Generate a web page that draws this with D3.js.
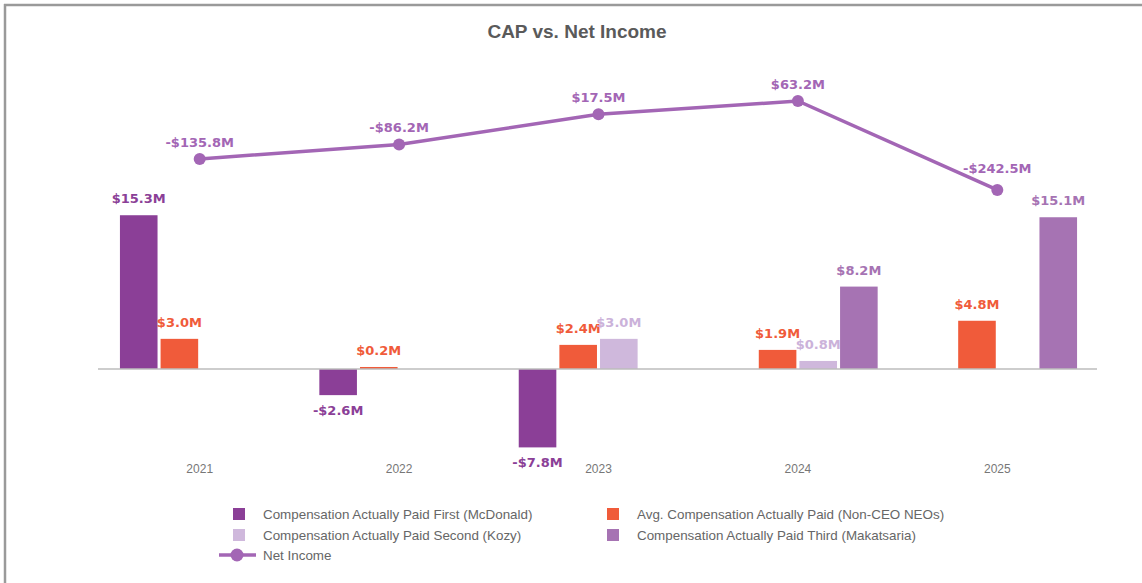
<!DOCTYPE html>
<html>
<head>
<meta charset="utf-8">
<script src="https://cdn.jsdelivr.net/npm/d3@7"></script>
<style>
  html, body { margin: 0; padding: 0; background: #fff; }
  svg { display: block; }
</style>
</head>
<body>
<svg id="chart" width="1142" height="583"></svg>
<script>
// chart data (values in $M)
const years = ["2021", "2022", "2023", "2024", "2025"];
const capMcDonald = [15.3, -2.6, -7.8, null, null];
const capNonCeo = [3.0, 0.2, 2.4, 1.9, 4.8];
const capKozy = [null, null, 3.0, 0.8, null];
const capMakatsaria = [null, null, null, 8.2, 15.1];
const netIncome = [-135.8, -86.2, 17.5, 63.2, -242.5];

const seriesNames = [
  "Compensation Actually Paid First (McDonald)",
  "Avg. Compensation Actually Paid (Non-CEO NEOs)",
  "Compensation Actually Paid Second (Kozy)",
  "Compensation Actually Paid Third (Makatsaria)"
];
const lineName = "Net Income";

const barColors = ["#8b3f97", "#f05b3a", "#cfb8dc", "#a673b3"];
const labelColors = ["#8b3f97", "#f05b3a", "#cbb2da", "#a673b3"];
const lineColor = "#a366b5";

const seriesValues = [capMcDonald, capNonCeo, capKozy, capMakatsaria];

const fmt = (v) => (v < 0 ? "-" : "") + "$" + Math.abs(v).toFixed(1) + "M";

const svg = d3.select("#chart");

// frame (top + left edge)
svg.append("line").attr("x1", 4).attr("x2", 1142).attr("y1", 5).attr("y2", 5)
  .style("stroke", "#9a9a9a").style("stroke-width", 2.5);
svg.append("line").attr("x1", 5).attr("x2", 5).attr("y1", 4).attr("y2", 583)
  .style("stroke", "#9a9a9a").style("stroke-width", 2.5);

// title
svg.append("text")
  .attr("x", 577)
  .attr("y", 38)
  .attr("text-anchor", "middle")
  .style("font-family", "'Liberation Sans', Arial, sans-serif")
  .style("font-weight", "bold")
  .style("font-size", "19px")
  .style("fill", "#5a5a5a")
  .text("CAP vs. Net Income");

// scales
const x0 = d3.scaleBand().domain(years).range([100, 1097]).padding(0);
const x1 = d3.scaleBand()
  .domain(d3.range(seriesNames.length))
  .range([x0.bandwidth() * 0.1, x0.bandwidth() * 0.9])
  .paddingInner(0.075);

const yBar = d3.scaleLinear().domain([-10, 20]).range([469.5, 168]);
const yLine = d3.scaleLinear().domain([-400, 100]).range([235.8, 90.3]);

// bars
const barData = [];
seriesValues.forEach((vals, si) => {
  vals.forEach((v, i) => {
    if (v !== null) barData.push({ year: years[i], s: si, v: v });
  });
});

const groups = svg.append("g").attr("class", "bars");

groups.selectAll(".bar")
  .data(barData)
  .enter()
  .append("rect")
  .attr("class", "bar")
  .attr("x", (d) => x0(d.year) + x1(d.s))
  .attr("width", x1.bandwidth())
  .attr("y", (d) => yBar(Math.max(0, d.v)))
  .attr("height", (d) => Math.abs(yBar(d.v) - yBar(0)))
  .style("fill", (d) => barColors[d.s]);

// bar value labels
groups.selectAll(".bar-label")
  .data(barData)
  .enter()
  .append("text")
  .attr("class", "bar-label")
  .attr("x", (d) => x0(d.year) + x1(d.s) + x1.bandwidth() / 2)
  .attr("y", (d) => (d.v >= 0 ? yBar(d.v) - 12 : yBar(d.v) + 20))
  .attr("text-anchor", "middle")
  .style("font-family", "'DejaVu Sans', sans-serif")
  .style("font-weight", "bold")
  .style("font-size", "13px")
  .style("fill", (d) => labelColors[d.s])
  .text((d) => fmt(d.v));

// zero axis line
svg.append("line")
  .attr("x1", 98)
  .attr("x2", x0.range()[1])
  .attr("y1", yBar(0))
  .attr("y2", yBar(0))
  .style("stroke", "#bdbdbd")
  .style("stroke-width", 1.5);

// year labels
const xAxis = svg.append("g")
  .attr("class", "x-axis")
  .attr("transform", "translate(0, 464)")
  .call(d3.axisBottom(x0).tickSize(0).tickPadding(0));
xAxis.select(".domain").remove();
xAxis.selectAll("text")
  .style("font-family", "'Liberation Sans', Arial, sans-serif")
  .style("font-size", "12px")
  .style("fill", "#777");

// net income line
const linePts = netIncome.map((v, i) => ({ year: years[i], v: v }));
const cx = (d) => x0(d.year) + x0.bandwidth() / 2;

svg.append("path")
  .datum(linePts)
  .attr("d", d3.line().x(cx).y((d) => yLine(d.v)))
  .style("fill", "none")
  .style("stroke", lineColor)
  .style("stroke-width", 3.5);

svg.selectAll(".ni-dot")
  .data(linePts)
  .enter()
  .append("circle")
  .attr("class", "ni-dot")
  .attr("cx", cx)
  .attr("cy", (d) => yLine(d.v))
  .attr("r", 6)
  .style("fill", lineColor);

// last label sits a little higher so it clears the falling line
svg.selectAll(".ni-label")
  .data(linePts)
  .enter()
  .append("text")
  .attr("class", "ni-label")
  .attr("x", cx)
  .attr("y", (d, i) => yLine(d.v) - (i === linePts.length - 1 ? 17 : 12))
  .attr("text-anchor", "middle")
  .style("font-family", "'DejaVu Sans', sans-serif")
  .style("font-weight", "bold")
  .style("font-size", "13px")
  .style("fill", lineColor)
  .text((d) => fmt(d.v));

// legend
const legendFont = "'Liberation Sans', Arial, sans-serif";
const legendPos = [
  { x: 233, y: 514 },
  { x: 607, y: 514 },
  { x: 233, y: 535 },
  { x: 607, y: 535 }
];
const legend = svg.append("g").attr("class", "legend");

seriesNames.forEach((name, i) => {
  const p = legendPos[i];
  legend.append("rect")
    .attr("x", p.x)
    .attr("y", p.y - 6)
    .attr("width", 12)
    .attr("height", 12)
    .style("fill", barColors[i]);
  legend.append("text")
    .attr("x", p.x + 30)
    .attr("y", p.y + 4.5)
    .style("font-family", legendFont)
    .style("font-size", "13.4px")
    .style("fill", "#666")
    .text(name);
});

legend.append("line")
  .attr("x1", 219).attr("x2", 256)
  .attr("y1", 555).attr("y2", 555)
  .style("stroke", lineColor)
  .style("stroke-width", 3.5);
legend.append("circle")
  .attr("cx", 237).attr("cy", 555).attr("r", 6.5)
  .style("fill", lineColor);
legend.append("text")
  .attr("x", 263)
  .attr("y", 559.5)
  .style("font-family", legendFont)
  .style("font-size", "13.4px")
  .style("fill", "#666")
  .text(lineName);
</script>
</body>
</html>
